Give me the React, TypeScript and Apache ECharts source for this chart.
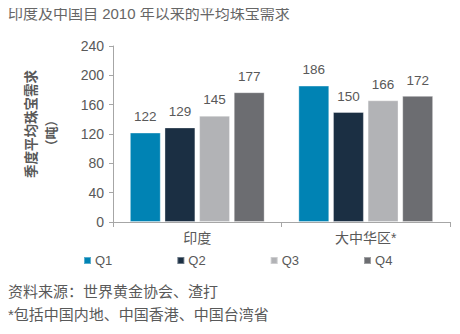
import React, { useEffect, useRef } from "react";
import * as echarts from "echarts";

const categories = ["印度", "大中华区*"];
const seriesNames = ["Q1", "Q2", "Q3", "Q4"];
const q1 = [122, 186];
const q2 = [129, 150];
const q3 = [145, 166];
const q4 = [177, 172];
const seriesValues = [q1, q2, q3, q4];
const colors = ["#0083B4", "#1B2F43", "#B2B3B6", "#6C6D71"];
const yTicks = { min: 0, max: 240, interval: 40 };

const title = "印度及中国自 2010 年以来的平均珠宝需求";
const yName1 = "季度平均珠宝需求";
const yName2 = "（吨）";
const source = "资料来源：世界黄金协会、渣打";
const footnote = "*包括中国内地、中国香港、中国台湾省";

const FONT = "'Liberation Sans', Arial, 'Noto Sans CJK SC', sans-serif";
const TEXT = "#595959";

export default function App() {
  const ref = useRef<HTMLDivElement>(null);
  useEffect(() => {
    if (!ref.current) return;
    const chart = echarts.init(ref.current, null, { renderer: "svg" });
    chart.setOption({
      animation: false,
      textStyle: { fontFamily: FONT },
      grid: { left: 113, right: 10, top: 46, bottom: 112 },
      legend: {
        left: 83,
        top: 254,
        padding: 0,
        itemWidth: 7,
        itemHeight: 7,
        itemGap: 64,
        icon: "rect",
        textStyle: { fontSize: 13, color: TEXT, fontFamily: FONT, padding: [0, 0, 0, -1] },
        data: seriesNames,
      },
      xAxis: {
        type: "category",
        data: categories,
        axisLine: { lineStyle: { color: "#A6A6A6", width: 1 } },
        axisTick: { show: true, length: 5, lineStyle: { color: "#A6A6A6" } },
        axisLabel: { fontSize: 14, color: TEXT, margin: 9, fontFamily: FONT },
      },
      yAxis: {
        type: "value",
        min: yTicks.min,
        max: yTicks.max,
        interval: yTicks.interval,
        splitLine: { show: false },
        axisLine: { show: true, lineStyle: { color: "#A6A6A6", width: 1 } },
        axisTick: { show: true, length: 4, lineStyle: { color: "#A6A6A6" } },
        axisLabel: { fontSize: 14, color: TEXT, margin: 9, fontFamily: FONT },
      },
      series: seriesNames.map((name, i) => ({
        name,
        type: "bar",
        data: seriesValues[i],
        barGap: "12%",
        barCategoryGap: "20%",
        itemStyle: {
          color: colors[i],
          borderColor: "rgba(255,255,255,0.35)",
          borderWidth: 1,
        },
        label: {
          show: true,
          position: "top",
          distance: 9,
          fontSize: 13.5,
          color: TEXT,
          fontFamily: FONT,
        },
      })),
      graphic: [
        {
          type: "text",
          left: 8,
          top: 6,
          style: { text: title, fontSize: 15, fill: "#666", fontFamily: FONT },
        },
        {
          type: "text",
          x: 31,
          y: 124,
          rotation: Math.PI / 2,
          style: {
            text: yName1,
            fontSize: 13.5,
            fontWeight: "bold",
            fill: TEXT,
            fontFamily: FONT,
            align: "center",
            verticalAlign: "middle",
          },
        },
        {
          type: "text",
          x: 51,
          y: 133,
          rotation: Math.PI / 2,
          style: {
            text: yName2,
            fontSize: 13,
            fontWeight: "bold",
            fill: TEXT,
            fontFamily: FONT,
            align: "center",
            verticalAlign: "middle",
          },
        },
        {
          type: "text",
          left: 8,
          top: 284,
          style: { text: source, fontSize: 15, fill: TEXT, fontFamily: FONT },
        },
        {
          type: "text",
          left: 8,
          top: 307,
          style: { text: footnote, fontSize: 15, fill: TEXT, fontFamily: FONT },
        },
      ],
    });
    return () => chart.dispose();
  }, []);
  return <div ref={ref} style={{ width: 460, height: 334, margin: -8 }} />;
}
